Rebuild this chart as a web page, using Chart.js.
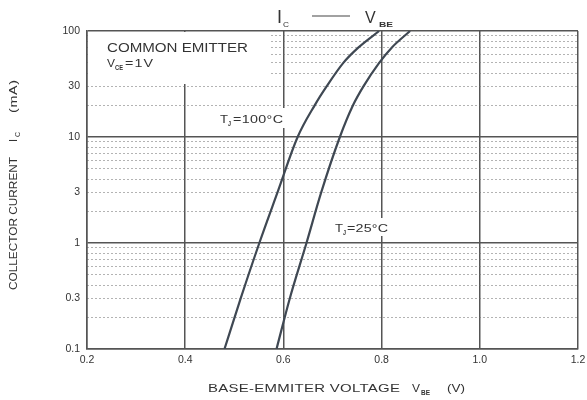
<!DOCTYPE html>
<html>
<head>
<meta charset="utf-8">
<script src="https://cdn.jsdelivr.net/npm/chart.js@4.4.1/dist/chart.umd.min.js"></script>
<style>
html,body{margin:0;padding:0;background:#fff;}
#wrap{width:587px;height:400px;position:relative;}
</style>
</head>
<body>
<div id="wrap"><canvas id="c" width="587" height="400"></canvas></div>
<script>
// ---- data ----
const icValues = [0.1, 0.3, 1, 3, 10, 20, 30, 50, 70, 100];                              // collector current, mA
const vbeTj100 = [0.480, 0.513, 0.551, 0.588, 0.629, 0.664, 0.688, 0.722, 0.753, 0.795]; // V, Tj=100°C
const vbeTj25  = [0.586, 0.613, 0.647, 0.677, 0.715, 0.742, 0.763, 0.795, 0.821, 0.858]; // V, Tj=25°C
const xTickValues = [0.2, 0.4, 0.6, 0.8, 1.0, 1.2];
const xTickLabels = ['0.2', '0.4', '0.6', '0.8', '1.0', '1.2'];
const yLabelValues = [0.1, 0.3, 1, 3, 10, 30, 100];
const yLabelTexts  = ['0.1', '0.3', '1', '3', '10', '30', '100'];
const yMajorValues = [0.1, 1, 10, 100];
const yGridValues  = [0.1,0.2,0.3,0.4,0.5,0.6,0.7,0.8,0.9,1,2,3,4,5,6,7,8,9,10,20,30,40,50,60,70,80,90,100];

const FONT = "'Liberation Sans', Arial, sans-serif";
const TXT = '#333333';
const GRID = '#555555';
const CURVE = '#3f4853';

const near = (a, b) => Math.abs(a - b) < 1e-9 * Math.max(1, Math.abs(b));
const isMajorY = v => yMajorValues.some(m => near(v, m));

function pts(xs, ys) { return xs.map((x, i) => ({ x: x, y: ys[i] })); }

// draw a run of text; if width given, glyphs are widened (up to 1.3x) and spaced to fill that width
function run(ctx, text, x, y, size, width, weight) {
  ctx.save();
  ctx.font = (weight || 'normal') + ' ' + size + 'px ' + FONT;
  ctx.letterSpacing = '0px';
  ctx.translate(x, y);
  if (width) {
    const w = ctx.measureText(text).width;
    let sx = Math.min(width / w, 1.3);
    if (sx < 0.7) sx = 0.7;
    ctx.scale(sx, 1);
    if (text.length > 1) {
      const rem = width - w * sx;
      ctx.letterSpacing = (rem / (text.length - 1) / sx) + 'px';
    }
  }
  ctx.fillText(text, 0, 0);
  ctx.restore();
}

const annot = {
  id: 'annot',
  beforeDatasetsDraw(chart) {
    const ctx = chart.ctx;
    const a = chart.chartArea;
    ctx.save();
    ctx.fillStyle = '#fff';
    // white label boxes covering the grid
    ctx.fillRect(a.left + 1, a.top + 1, 183, 52);
    ctx.fillRect(a.left + 129, a.top + 77, 75, 20);
    ctx.fillRect(a.left + 246, a.top + 187, 59, 18);
    ctx.fillStyle = TXT;
    ctx.textBaseline = 'alphabetic';
    // COMMON EMITTER / VCE=1V
    run(ctx, 'COMMON EMITTER', a.left + 20, a.top + 21, 12, 141);
    run(ctx, 'V', a.left + 20, a.top + 36, 11, 8);
    run(ctx, 'CE', a.left + 28, a.top + 39, 7, 8, 'bold');
    run(ctx, '=1V', a.left + 38, a.top + 36, 11, 28);
    // Tj labels
    run(ctx, 'T', a.left + 133, a.top + 92, 11, 8);
    run(ctx, 'J', a.left + 141, a.top + 95, 7, 3, 'bold');
    run(ctx, '=100\u00B0C', a.left + 146, a.top + 92, 11, 50);
    run(ctx, 'T', a.left + 248, a.top + 201, 11, 8);
    run(ctx, 'J', a.left + 256, a.top + 204, 7, 3, 'bold');
    run(ctx, '=25\u00B0C', a.left + 260, a.top + 201, 11, 41);
    ctx.restore();
  },
  afterDraw(chart) {
    const ctx = chart.ctx;
    ctx.save();
    ctx.fillStyle = TXT;
    ctx.strokeStyle = '#444';
    // header: IC ---- VBE
    run(ctx, 'I', 277, 23, 18);
    run(ctx, 'C', 283, 27, 8, 6);
    ctx.lineWidth = 1.2;
    ctx.beginPath(); ctx.moveTo(312, 16); ctx.lineTo(350, 16); ctx.stroke();
    run(ctx, 'V', 365, 23, 16);
    run(ctx, 'BE', 379, 27, 8, 14, 'bold');
    // x-axis title
    run(ctx, 'BASE-EMMITER VOLTAGE', 208, 392, 11.5, 192);
    run(ctx, 'V', 412, 392, 11.5, 8);
    run(ctx, 'BE', 421, 395, 7, 9, 'bold');
    run(ctx, '(V)', 447, 392, 11.5, 18);
    // y-axis title (rotated)
    ctx.translate(12, 0);
    ctx.rotate(-Math.PI / 2);
    run(ctx, 'COLLECTOR CURRENT', -290, 4.5, 11, 133);
    run(ctx, 'I', -142, 4.5, 11);
    run(ctx, 'C', -137, 7.5, 7);
    run(ctx, '(mA)', -113, 4.5, 11, 33);
    ctx.restore();
  }
};

new Chart(document.getElementById('c'), {
  type: 'line',
  data: {
    datasets: [
      { label: 'Tj=100°C', data: pts(vbeTj100, icValues), borderColor: CURVE, borderWidth: 2.2,
        pointRadius: 0, cubicInterpolationMode: 'monotone', fill: false },
      { label: 'Tj=25°C', data: pts(vbeTj25, icValues), borderColor: CURVE, borderWidth: 2.2,
        pointRadius: 0, cubicInterpolationMode: 'monotone', fill: false }
    ]
  },
  options: {
    responsive: false,
    animation: false,
    devicePixelRatio: 1,
    layout: { padding: { left: 0, top: 31, right: 9, bottom: 0 } },
    plugins: { legend: { display: false }, tooltip: { enabled: false }, title: { display: false } },
    scales: {
      x: {
        type: 'linear', min: 0.2, max: 1.2,
        afterBuildTicks: s => { s.ticks = xTickValues.map(v => ({ value: v })); },
        afterFit: s => { s.height = 51; s.paddingLeft = 0; s.paddingRight = 0; },
        ticks: {
          autoSkip: false, maxRotation: 0, padding: 5, color: TXT,
          font: { family: FONT, size: 10.5 },
          callback: (v) => { const i = xTickValues.findIndex(t => near(t, v)); return i >= 0 ? xTickLabels[i] : ''; }
        },
        grid: { color: GRID, lineWidth: 1.5, drawTicks: false },
        border: { display: true, color: GRID, width: 1.5 }
      },
      y: {
        type: 'logarithmic', min: 0.1, max: 100,
        afterBuildTicks: s => { s.ticks = yGridValues.map(v => ({ value: v, major: isMajorY(v) })); },
        afterFit: s => { s.width = 87; s.paddingTop = 0; s.paddingBottom = 0; },
        ticks: {
          autoSkip: false, padding: 7, color: TXT,
          font: { family: FONT, size: 10.5 },
          callback: (v) => { const i = yLabelValues.findIndex(t => near(t, v)); return i >= 0 ? yLabelTexts[i] : ''; }
        },
        grid: {
          drawTicks: false,
          color: c => (c.tick && isMajorY(c.tick.value)) ? GRID : '#666666',
          lineWidth: c => (c.tick && isMajorY(c.tick.value)) ? 1.5 : 1
        },
        border: {
          display: true, color: GRID, width: 1.5,
          dash: c => (c.tick && !isMajorY(c.tick.value)) ? [1, 3] : []
        }
      }
    }
  },
  plugins: [annot]
});
</script>
</body>
</html>
